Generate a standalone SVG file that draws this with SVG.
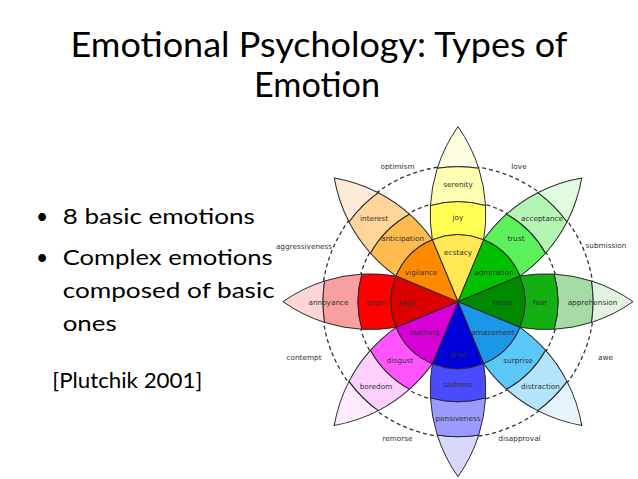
<svg xmlns="http://www.w3.org/2000/svg" width="638" height="479" viewBox="0 0 638 479">
<style>
.title{font-family:Lato,"Open Sans","Liberation Sans",sans-serif;font-size:35px;fill:#000;text-anchor:middle}
.body{font-family:Lato,"Open Sans","Liberation Sans",sans-serif;font-size:21px;fill:#000}
.lbl{font-family:"DejaVu Sans",sans-serif;font-size:7.3px;fill:#333;text-anchor:middle}
.petal use{stroke:#2a2a2a;stroke-width:1}
.dash{fill:none;stroke:#333;stroke-width:1.3;stroke-dasharray:4 3}
</style>
<defs>
<path id="b0" d="M0 0 L61.9 25.64 A67 67 0 0 0 61.9 -25.64 Z"/>
<path id="b1" d="M61.9 25.64 A151.5 151.5 0 0 0 96.12 27.58 A100 100 0 0 0 96.12 -27.58 A151.5 151.5 0 0 0 61.9 -25.64 A67 67 0 0 1 61.9 25.64 Z"/>
<path id="b2" d="M96.12 27.58 A151.5 151.5 0 0 0 133.4 20.72 A135 135 0 0 0 133.4 -20.72 A151.5 151.5 0 0 0 96.12 -27.58 A100 100 0 0 1 96.12 27.58 Z"/>
<path id="b3" d="M133.4 20.72 A151.5 151.5 0 0 0 175 0 A151.5 151.5 0 0 0 133.4 -20.72 A135 135 0 0 1 133.4 20.72 Z"/>
</defs>
<rect width="638" height="479" fill="#fff"/>

<g id="title">
<text class="title" x="319" y="57" textLength="497" lengthAdjust="spacingAndGlyphs">Emotional Psychology: Types of</text>
<text class="title" x="317" y="97" textLength="126" lengthAdjust="spacingAndGlyphs">Emotion</text>
</g>

<g id="bullets">
<text class="body" x="36" y="224">•</text>
<text class="body" x="62.7" y="223.5" textLength="192" lengthAdjust="spacingAndGlyphs">8 basic emotions</text>
<text class="body" x="36" y="265">•</text>
<text class="body" x="62.7" y="265" textLength="210" lengthAdjust="spacingAndGlyphs">Complex emotions</text>
<text class="body" x="62.7" y="297.5" textLength="212" lengthAdjust="spacingAndGlyphs">composed of basic</text>
<text class="body" x="62.7" y="330.5" textLength="54" lengthAdjust="spacingAndGlyphs">ones</text>
</g>
<g id="citation">
<text class="body" x="52.3" y="388" textLength="150" lengthAdjust="spacingAndGlyphs">[Plutchik 2001]</text>
</g>

<g id="dashed-rings">
<circle class="dash" cx="458" cy="301.7" r="101"/>
<circle class="dash" cx="458" cy="301.7" r="136"/>
</g>

<g id="petal-joy" class="petal">
<g transform="translate(458 301.7) rotate(-90)">
<use href="#b3" fill="#fefde2"/><use href="#b2" fill="#ffffb1"/><use href="#b1" fill="#ffff54"/><use href="#b0" fill="#ffe854"/>
</g>
<text class="lbl" x="458" y="186.5">serenity</text>
<text class="lbl" x="458" y="219.5">joy</text>
<text class="lbl" x="458" y="254.5">ecstacy</text>
</g>

<g id="petal-trust" class="petal">
<g transform="translate(458 301.7) rotate(-45)">
<use href="#b3" fill="#e1fbe1"/><use href="#b2" fill="#b4f5b4"/><use href="#b1" fill="#5cf05c"/><use href="#b0" fill="#00c000"/>
</g>
<text class="lbl" x="542" y="220.5">acceptance</text>
<text class="lbl" x="516" y="240.5">trust</text>
<text class="lbl" x="494" y="274.5">admiration</text>
</g>

<g id="petal-fear" class="petal">
<g transform="translate(458 301.7)">
<use href="#b3" fill="#e2f3e2"/><use href="#b2" fill="#a5dca5"/><use href="#b1" fill="#12b012"/><use href="#b0" fill="#008a00"/>
</g>
<text class="lbl" x="503" y="304.5">terror</text>
<text class="lbl" x="540" y="304.5">fear</text>
<text class="lbl" x="592.5" y="304.5">apprehension</text>
</g>

<g id="petal-surprise" class="petal">
<g transform="translate(458 301.7) rotate(45)">
<use href="#b3" fill="#e6f4fd"/><use href="#b2" fill="#b4e4fa"/><use href="#b1" fill="#5cc8fa"/><use href="#b0" fill="#1c96e8"/>
</g>
<text class="lbl" x="493" y="334.5">amazement</text>
<text class="lbl" x="518" y="362.5">surprise</text>
<text class="lbl" x="540.5" y="389">distraction</text>
</g>

<g id="petal-sadness" class="petal">
<g transform="translate(458 301.7) rotate(90)">
<use href="#b3" fill="#d8d8fc"/><use href="#b2" fill="#9a9aff"/><use href="#b1" fill="#4a4aff"/><use href="#b0" fill="#0000d8"/>
</g>
<text class="lbl" x="458" y="356.5">grief</text>
<text class="lbl" x="458" y="386.5">sadness</text>
<text class="lbl" x="458" y="421">pensiveness</text>
</g>

<g id="petal-disgust" class="petal">
<g transform="translate(458 301.7) rotate(135)">
<use href="#b3" fill="#fdeafd"/><use href="#b2" fill="#fcd0fc"/><use href="#b1" fill="#ff55ff"/><use href="#b0" fill="#d800d8"/>
</g>
<text class="lbl" x="424.5" y="334.5">loathing</text>
<text class="lbl" x="400" y="362.5">disgust</text>
<text class="lbl" x="376" y="389">boredom</text>
</g>

<g id="petal-anger" class="petal">
<g transform="translate(458 301.7) rotate(180)">
<use href="#b3" fill="#fcd6d6"/><use href="#b2" fill="#f8a0a0"/><use href="#b1" fill="#ff0000"/><use href="#b0" fill="#dd0000"/>
</g>
<text class="lbl" x="407" y="304.5">rage</text>
<text class="lbl" x="376" y="304.5">anger</text>
<text class="lbl" x="328.5" y="304.5">annoyance</text>
</g>

<g id="petal-anticipation" class="petal">
<g transform="translate(458 301.7) rotate(-135)">
<use href="#b3" fill="#fdebd8"/><use href="#b2" fill="#ffd59c"/><use href="#b1" fill="#ffbb4d"/><use href="#b0" fill="#ff8a00"/>
</g>
<text class="lbl" x="374" y="220.5">interest</text>
<text class="lbl" x="402.5" y="240.5">anticipation</text>
<text class="lbl" x="421" y="274.5">vigilance</text>
</g>

<g id="dyads">
<text id="optimism" class="lbl" x="397.5" y="169">optimism</text>
<text id="love" class="lbl" x="519" y="169">love</text>
<text id="aggressiveness" class="lbl" x="304" y="248.5">aggressiveness</text>
<text id="submission" class="lbl" x="606" y="248">submission</text>
<text id="contempt" class="lbl" x="304" y="360">contempt</text>
<text id="awe" class="lbl" x="605.5" y="360">awe</text>
<text id="remorse" class="lbl" x="397.5" y="440.5">remorse</text>
<text id="disapproval" class="lbl" x="519.5" y="440.5">disapproval</text>
</g>
</svg>
